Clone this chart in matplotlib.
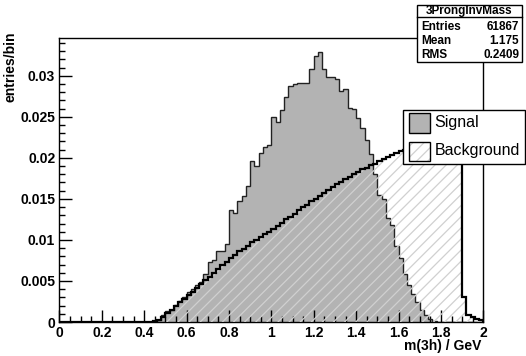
import numpy as np
import matplotlib
matplotlib.use('Agg')
import matplotlib.pyplot as plt
from matplotlib.patches import Rectangle
from matplotlib.lines import Line2D
from matplotlib.ticker import MultipleLocator, FuncFormatter

plt.rcParams['font.family'] = ['Liberation Sans', 'DejaVu Sans']
plt.rcParams['hatch.linewidth'] = 0.9

# 100 bins of 0.02 GeV between 0 and 2
n_bins = 100
x_min, x_max = 0.0, 2.0

# signal, normalised entries per bin, starting at 0.44
sig_first = 0.44
sig_vals = [0.0001, 0.0003, 0.00085, 0.0013, 0.0015, 0.0021, 0.0025, 0.0030,
            0.0036, 0.0040, 0.0045, 0.0049, 0.0059, 0.0073, 0.0076, 0.0086,
            0.0086, 0.0095, 0.0137, 0.0133, 0.0147, 0.0154, 0.0166, 0.0196,
            0.0190, 0.0206, 0.0213, 0.0216, 0.0250, 0.0244, 0.0258, 0.0274,
            0.0287, 0.0290, 0.0291, 0.0291, 0.0291, 0.0308, 0.0324, 0.0329,
            0.0308, 0.0299, 0.0298, 0.0296, 0.0281, 0.0284, 0.0261, 0.0259,
            0.0248, 0.0236, 0.0222, 0.0205, 0.0180, 0.0155, 0.0150, 0.0127,
            0.0118, 0.0092, 0.0078, 0.0058, 0.0045, 0.0034, 0.0024, 0.0015,
            0.0009, 0.0004, 0.0001]

# background, starting at 0.44
bkg_first = 0.44
bkg_vals = [0.0001, 0.0003, 0.0006, 0.0011, 0.0015, 0.0019, 0.0024, 0.0028,
            0.0033, 0.0037, 0.0042, 0.0046, 0.0051, 0.0055, 0.0060, 0.0064,
            0.0069, 0.0073, 0.0078, 0.0082, 0.0086, 0.0089, 0.0093, 0.0097,
            0.0100, 0.0104, 0.0107, 0.0110, 0.0113, 0.0117, 0.0121, 0.0125,
            0.0128, 0.0132, 0.0136, 0.0140, 0.0143, 0.0147, 0.0150, 0.0154,
            0.0157, 0.0161, 0.0164, 0.0168, 0.0171, 0.0174, 0.0177, 0.0180,
            0.0183, 0.0186, 0.0188, 0.0191, 0.0193, 0.0196, 0.0198, 0.0201,
            0.0203, 0.0206, 0.0208, 0.0210, 0.0212, 0.0214, 0.0216, 0.0218,
            0.0220, 0.0222, 0.0224, 0.0226, 0.0228, 0.0229, 0.0231, 0.0232,
            0.0234, 0.0031, 0.00085, 0.0006, 0.0004, 0.0003]

x_ticks = [0, 0.2, 0.4, 0.6, 0.8, 1.0, 1.2, 1.4, 1.6, 1.8, 2.0]
y_ticks = [0, 0.005, 0.01, 0.015, 0.02, 0.025, 0.03]

hist_name = '3ProngInvMass'
stats = [('Entries', '61867'), ('Mean', '1.175'), ('RMS', '0.2409')]

SIG_COLOR = '#b3b3b3'
HATCH_COLOR = '#d0d0d0'
W, H = 526, 356


def fill_bins(first, vals):
    h = np.zeros(n_bins)
    i0 = int(round((first - x_min) / (x_max - x_min) * n_bins))
    h[i0:i0 + len(vals)] = vals
    return h


def px(x, y):
    # pixel position -> figure fraction
    return x / W, 1 - y / H


edges = np.linspace(x_min, x_max, n_bins + 1)
sig = fill_bins(sig_first, sig_vals)
bkg = fill_bins(bkg_first, bkg_vals)

fig = plt.figure(figsize=(W / 100, H / 100), dpi=100)
fig.patch.set_facecolor('white')
ax = fig.add_axes([59.3 / W, 1 - 322 / H, (483.3 - 59.3) / W, (322 - 38) / H])

ax.stairs(sig, edges, fill=True, color=SIG_COLOR, lw=0, zorder=1)
ax.stairs(sig, edges, color='#222222', lw=1.0, zorder=2)
ax.stairs(bkg, edges, fill=True, facecolor='none', edgecolor=HATCH_COLOR,
          hatch='///', lw=0, zorder=3)
ax.stairs(bkg, edges, color='black', lw=1.6, zorder=4)

ax.set_xlim(x_min, x_max)
ax.set_ylim(0, 0.0346)
ax.set_xticks(x_ticks)
ax.set_yticks(y_ticks)
ax.xaxis.set_minor_locator(MultipleLocator(0.05))
ax.yaxis.set_minor_locator(MultipleLocator(0.001))
fmt = FuncFormatter(lambda v, p: '%g' % round(v, 4))
ax.xaxis.set_major_formatter(fmt)
ax.yaxis.set_major_formatter(fmt)
ax.tick_params(which='both', direction='in', top=False, right=False,
               width=1, color='black')
ax.tick_params(which='major', length=9, pad=3, labelsize=10)
ax.tick_params(which='minor', length=4.5)
for lab in ax.get_xticklabels() + ax.get_yticklabels():
    lab.set_fontweight('bold')
for sp in ax.spines.values():
    sp.set_linewidth(1)
    sp.set_color('black')

fig.text(*px(481, 346), 'm(3h) / GeV', ha='right', va='center',
         fontsize=10, fontweight='bold')
fig.text(*px(11, 32), 'entries/bin', ha='center', va='top', rotation=90,
         fontsize=10, fontweight='bold')

# stats box
x0, y0 = px(416.7, 61.7)
x1, y1 = px(521.7, 5)
fig.add_artist(Rectangle((x0, y0), x1 - x0, y1 - y0, transform=fig.transFigure,
                         facecolor='white', edgecolor='black', lw=1, zorder=5))
ys = px(0, 16.7)[1]
fig.add_artist(Line2D([x0, x1], [ys, ys], transform=fig.transFigure,
                      color='black', lw=1, zorder=6))
fig.text(*px(469, 11), hist_name, ha='center', va='center', fontsize=8.5,
         fontweight='bold', zorder=7)
for (name, val), yy in zip(stats, [27, 41, 55]):
    fig.text(*px(421, yy), name, ha='left', va='center', fontsize=8.5,
             fontweight='bold', zorder=7)
    fig.text(*px(519, yy), val, ha='right', va='center', fontsize=8.5,
             fontweight='bold', zorder=7)

# legend
lx0, ly0 = px(403.3, 164)
lx1, ly1 = px(524.7, 110)
fig.add_artist(Rectangle((lx0, ly0), lx1 - lx0, ly1 - ly0,
                         transform=fig.transFigure, facecolor='white',
                         edgecolor='black', lw=1, zorder=5))
sx0, sy0 = px(409, 133.3)
sx1, sy1 = px(429.7, 113.3)
fig.add_artist(Rectangle((sx0, sy0), sx1 - sx0, sy1 - sy0,
                         transform=fig.transFigure, facecolor=SIG_COLOR,
                         edgecolor='black', lw=1, zorder=6))
bx0, by0 = px(409, 160.7)
bx1, by1 = px(429.7, 141.7)
fig.add_artist(Rectangle((bx0, by0), bx1 - bx0, by1 - by0,
                         transform=fig.transFigure, facecolor='white',
                         edgecolor=HATCH_COLOR, hatch='///', lw=0, zorder=6))
fig.add_artist(Rectangle((bx0, by0), bx1 - bx0, by1 - by0,
                         transform=fig.transFigure, facecolor='none',
                         edgecolor='black', lw=1, zorder=6))
fig.text(*px(434.7, 123), 'Signal', ha='left', va='center', fontsize=11.5,
         zorder=7)
fig.text(*px(434.7, 151), 'Background', ha='left', va='center', fontsize=11.5,
         zorder=7)

fig.savefig('out.png', dpi=100)
